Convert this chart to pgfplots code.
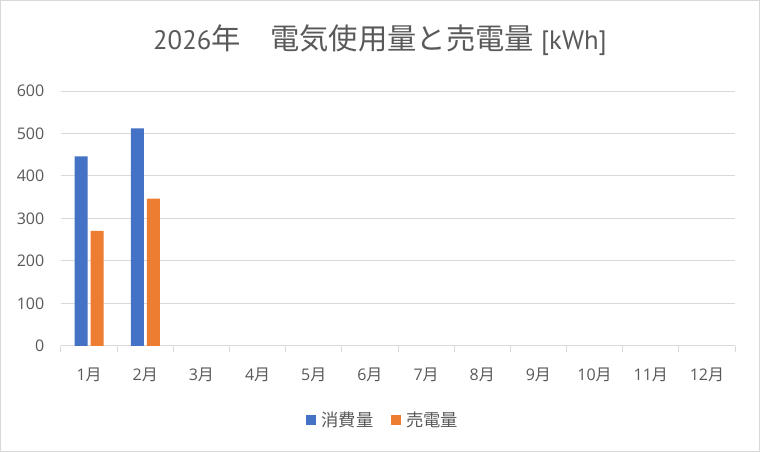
\documentclass[border=0pt]{standalone}
\usepackage{fontspec}
\setmainfont{Open Sans}
\newfontfamily\ttl{PT Sans}
\newfontfamily\cjk{Noto Sans CJK JP}
\usepackage{pgfplots}
\pgfplotsset{compat=1.18}
\definecolor{txt}{HTML}{595959}
\definecolor{gridc}{HTML}{D9D9D9}
\definecolor{cblue}{HTML}{4472C4}
\definecolor{corange}{HTML}{ED7D31}
\begin{document}
\begin{tikzpicture}
\useasboundingbox (0,0) rectangle (570pt,339pt);
\draw[gridc, line width=0.75pt] (0.375pt,0.375pt) rectangle (569.625pt,338.625pt);
\node[txt, anchor=center] at (285pt,308.6pt) {\fontsize{20}{22}\selectfont\ttl 2026{\cjk\fontsize{22}{24}\selectfont 年　電気使用量と売電量} [kWh]};
\begin{axis}[
  at={(45.75pt,79.5pt)}, anchor=south west,
  scale only axis, width=505.5pt, height=191.25pt,
  ybar, bar width=9.75pt, ybar=2.25pt,
  ymin=0, ymax=600, ytick={0,100,...,600},
  xmin=-0.5, xmax=11.5, xtick={0,...,11},
  xticklabels={1{\cjk 月},2{\cjk 月},3{\cjk 月},4{\cjk 月},5{\cjk 月},6{\cjk 月},7{\cjk 月},8{\cjk 月},9{\cjk 月},10{\cjk 月},11{\cjk 月},12{\cjk 月}},
  minor xtick={-0.5,0.5,...,11.5},
  ymajorgrids, major grid style={gridc, line width=0.75pt},
  axis x line*=bottom, axis y line*=left,
  y axis line style={draw=none},
  x axis line style={gridc, line width=0.75pt},
  major tick length=0pt, minor tick length=4.5pt,
  minor tick style={gridc, line width=0.75pt},
  tick align=outside,
  tick label style={txt, font=\fontsize{12}{14}\selectfont},
  /pgf/number format/assume math mode=true,
  yticklabel style={xshift=-9pt},
  xticklabel style={yshift=-13pt},
  legend columns=2,
  legend style={at={(0.4785,-0.29)}, anchor=center, draw=none, fill=none,
    font=\fontsize{13}{15}\selectfont\cjk, text=txt,
    /tikz/every odd column/.append style={column sep=2pt},
    /tikz/every even column/.append style={column sep=11pt}},
  legend image code/.code={\fill[#1] (0pt,-3.75pt) rectangle (7.5pt,3.75pt);},
]
\addplot[fill=cblue, draw=none] coordinates {(0,446) (1,512)};
\addplot[fill=corange, draw=none] coordinates {(0,271) (1,347)};
\legend{消費量,売電量}
\end{axis}
\end{tikzpicture}
\end{document}
